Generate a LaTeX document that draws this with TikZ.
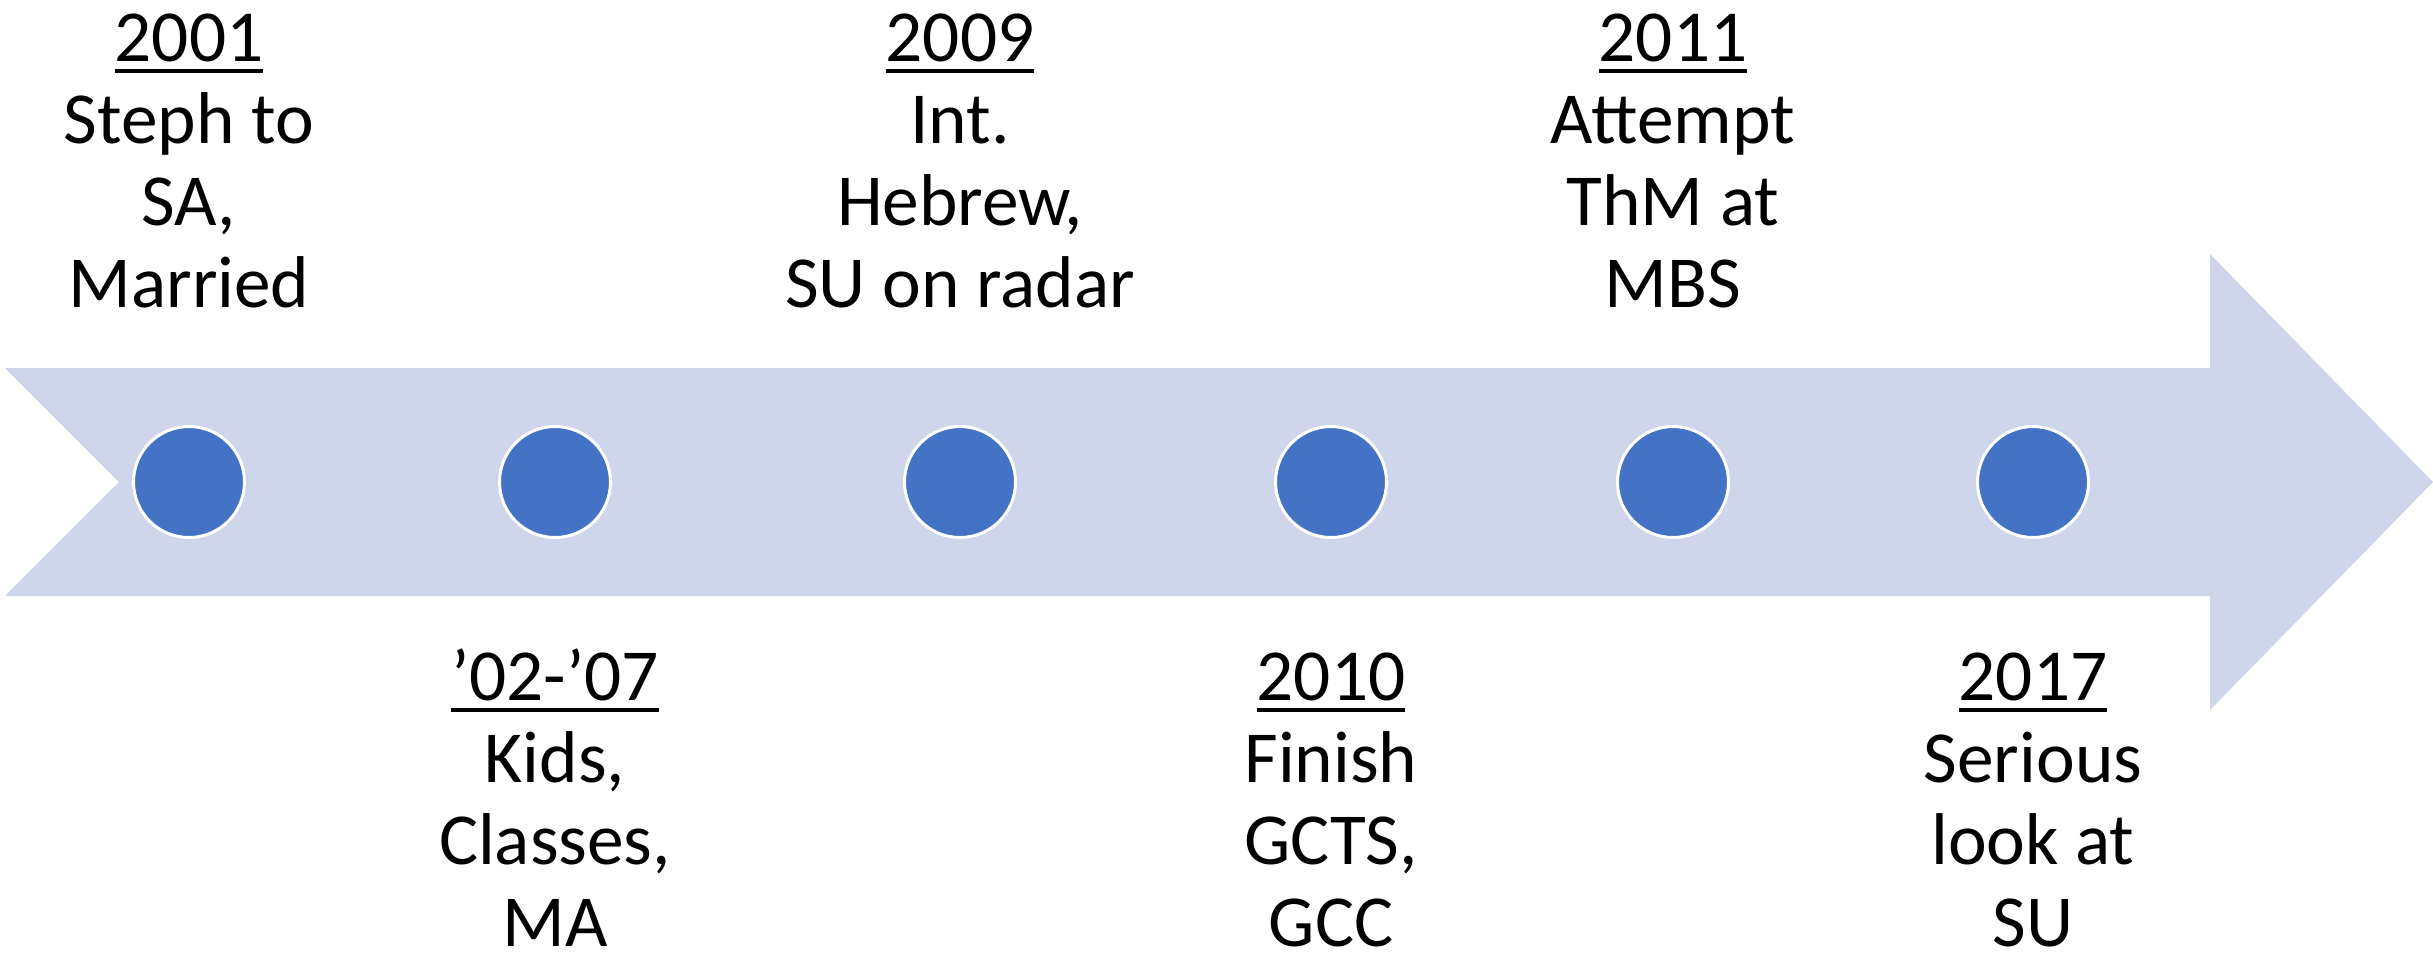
\documentclass[tikz,border=0pt]{standalone}
\usepackage{fontspec}
\setmainfont{Carlito}
\definecolor{arrowfill}{RGB}{207,213,234}
\definecolor{dotfill}{RGB}{68,114,196}
\newcommand\ulyear[1]{\setbox0\hbox{#1}\rlap{\vrule height -2.4pt depth 3.45pt width \wd0}\box0}
\newcommand\evlabel[4]{\vtop{\baselineskip=24.6pt\lineskiplimit=-10pt\halign{\hfil##\hfil\cr\ulyear{#1}\cr #2\cr #3\cr #4\cr}}}
\begin{document}
\begin{tikzpicture}[x=0.3pt,y=-0.3pt,
  dot/.style={circle,fill=dotfill,draw=white,line width=0.9pt,minimum size=33.3pt,inner sep=0pt},
  evtext/.style={anchor=base,inner sep=0pt,font=\fontsize{22}{24.6}\selectfont}]
\useasboundingbox (0,0) rectangle (2433,952);
\fill[arrowfill] (5,368) -- (2210,368) -- (2210,254) -- (2433,482) -- (2210,710) -- (2210,596) -- (5,596) -- (119,482) -- cycle;
\node[dot] (d1) at (189,482) {};
\node[dot] (d2) at (555,482) {};
\node[dot] (d3) at (960,482) {};
\node[dot] (d4) at (1331,482) {};
\node[dot] (d5) at (1673,482) {};
\node[dot] (d6) at (2033,482) {};
\node[evtext] (t1) at (189,61) {\evlabel{2001}{Steph to}{SA,}{Married}};
\node[evtext] (t3) at (960,61) {\evlabel{2009}{Int.}{Hebrew,}{SU on radar}};
\node[evtext] (t5) at (1673,61) {\evlabel{2011}{Attempt}{ThM at}{MBS}};
\node[evtext] (t2) at (555,700) {\evlabel{’02-’07}{Kids,}{Classes,}{MA}};
\node[evtext] (t4) at (1331,700) {\evlabel{2010}{Finish}{GCTS,}{GCC}};
\node[evtext] (t6) at (2033,700) {\evlabel{2017}{Serious}{look at}{SU}};
\end{tikzpicture}
\end{document}
